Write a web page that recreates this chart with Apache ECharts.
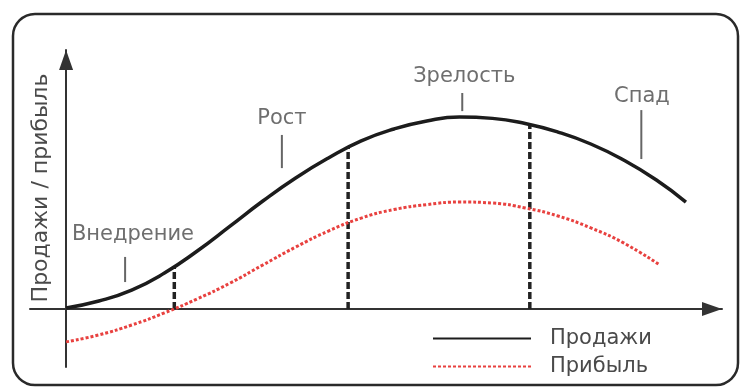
<!DOCTYPE html>
<html>
<head>
<meta charset="utf-8">
<script src="https://cdn.jsdelivr.net/npm/echarts@6/dist/echarts.min.js"></script>
<style>
html, body { margin: 0; padding: 0; background: #fff; }
#main { width: 741px; height: 387px; }
</style>
</head>
<body>
<div id="main"></div>
<script>
// sales curve (black), read every 5 units along the time axis
var salesX = [0, 5, 10, 15, 20, 25, 30, 35, 40, 45, 50, 55, 60, 65, 70, 75, 80, 85, 90, 94.5];
var salesY = [0.4, 3.1, 7.3, 13.9, 22.4, 32.0, 41.7, 50.6, 58.3, 64.9, 69.5, 72.6, 74.1, 73.6, 71.6, 68.3, 63.7, 57.5, 49.8, 41.3];
// profit curve (red dotted)
var profitX = [0, 5, 10, 15, 20, 25, 30, 35, 40, 45, 50, 55, 60, 65, 70, 75, 80, 85, 90.5];
var profitY = [-12.7, -10.0, -6.2, -1.5, 3.9, 10.0, 17.0, 23.9, 30.1, 35.1, 38.4, 40.3, 41.3, 40.9, 39.0, 35.9, 31.3, 25.5, 17.0];
// stage boundaries (dashed verticals)
var boundaryX = [16.5, 43, 70.7];
var boundaryTop = [16.2, 62.2, 71.2];
// stage names + little pointer ticks
var stageNames = ['Внедрение', 'Рост', 'Зрелость', 'Спад'];
var stageTickX = [9, 32.9, 60.4, 87.7];
var stageTickTop = [20.1, 67.2, 83.4, 76.8];
var stageTickBottom = [10.4, 54.4, 76.4, 57.9];
var stageLabelX = [10.2, 32.9, 60.7, 87.8];
var stageLabelY = [28.6, 73.4, 89.6, 82.2];
var legendNames = ['Продажи', 'Прибыль'];
var axisName = 'Продажи / прибыль';

var font = 'DejaVu Sans';
var textColor = '#4a4a4a';

var chart = echarts.init(document.getElementById('main'));

function zip(xs, ys) {
    return xs.map(function (x, i) { return [x, ys[i]]; });
}

var series = [
    {
        name: legendNames[0],
        type: 'line',
        data: zip(salesX, salesY),
        smooth: true,
        symbol: 'none',
        z: 4,
        itemStyle: { color: '#1c1c1c' },
        lineStyle: { color: '#1c1c1c', width: 3.5 }
    },
    {
        name: legendNames[1],
        type: 'line',
        data: zip(profitX, profitY),
        smooth: true,
        symbol: 'none',
        z: 3,
        itemStyle: { color: '#e8413f' },
        lineStyle: { color: '#e8413f', width: 3, type: [3, 2] }
    }
];

boundaryX.forEach(function (x, i) {
    series.push({
        type: 'line',
        data: [[x, 0], [x, boundaryTop[i]]],
        symbol: 'none',
        silent: true,
        z: 2,
        lineStyle: { color: '#222', width: 3.5, type: [7, 3] }
    });
});

stageTickX.forEach(function (x, i) {
    series.push({
        type: 'line',
        data: [[x, stageTickTop[i]], [x, stageTickBottom[i]]],
        symbol: 'none',
        silent: true,
        lineStyle: { color: '#666', width: 2 }
    });
});

series.push({
    type: 'scatter',
    data: stageLabelX.map(function (x, i) { return [x, stageLabelY[i], stageNames[i]]; }),
    symbolSize: 1,
    silent: true,
    itemStyle: { color: 'transparent' },
    label: {
        show: true,
        position: 'inside',
        formatter: function (p) { return p.value[2]; },
        color: textColor,
        fontFamily: font,
        fontSize: 21
    }
});

// arrow heads sit just inside the axis end, tip on the end point
var axisLine = {
    show: true,
    onZero: true,
    symbol: ['none', 'triangle'],
    symbolSize: [14, 20],
    symbolOffset: [0, -10],
    lineStyle: { color: '#333', width: 2 }
};

chart.setOption({
    animation: false,
    grid: { left: 30, right: 19, top: 50, bottom: 20 },
    xAxis: {
        type: 'value',
        min: -5.5,
        max: 100,
        axisLine: axisLine,
        axisTick: { show: false },
        axisLabel: { show: false },
        splitLine: { show: false }
    },
    yAxis: {
        type: 'value',
        min: -22.4,
        max: 100,
        axisLine: axisLine,
        axisTick: { show: false },
        axisLabel: { show: false },
        splitLine: { show: false }
    },
    legend: {
        data: legendNames,
        orient: 'vertical',
        left: 427,
        top: 323,
        itemWidth: 98,
        itemHeight: 14,
        itemGap: 7,
        itemStyle: { opacity: 0 },
        textStyle: {
            color: textColor,
            fontFamily: font,
            fontSize: 21,
            lineHeight: 20,
            padding: [0, 0, 0, 14]
        }
    },
    graphic: [
        {
            type: 'rect',
            shape: { x: 13, y: 14, width: 725, height: 371, r: 22 },
            style: { fill: 'none', stroke: '#2a2a2a', lineWidth: 2.5 },
            silent: true
        },
        {
            type: 'text',
            x: 41,
            y: 188,
            rotation: Math.PI / 2,
            style: {
                text: axisName,
                fill: textColor,
                fontFamily: font,
                fontSize: 22,
                textAlign: 'center',
                textVerticalAlign: 'middle'
            },
            silent: true
        }
    ],
    series: series
});
</script>
</body>
</html>
